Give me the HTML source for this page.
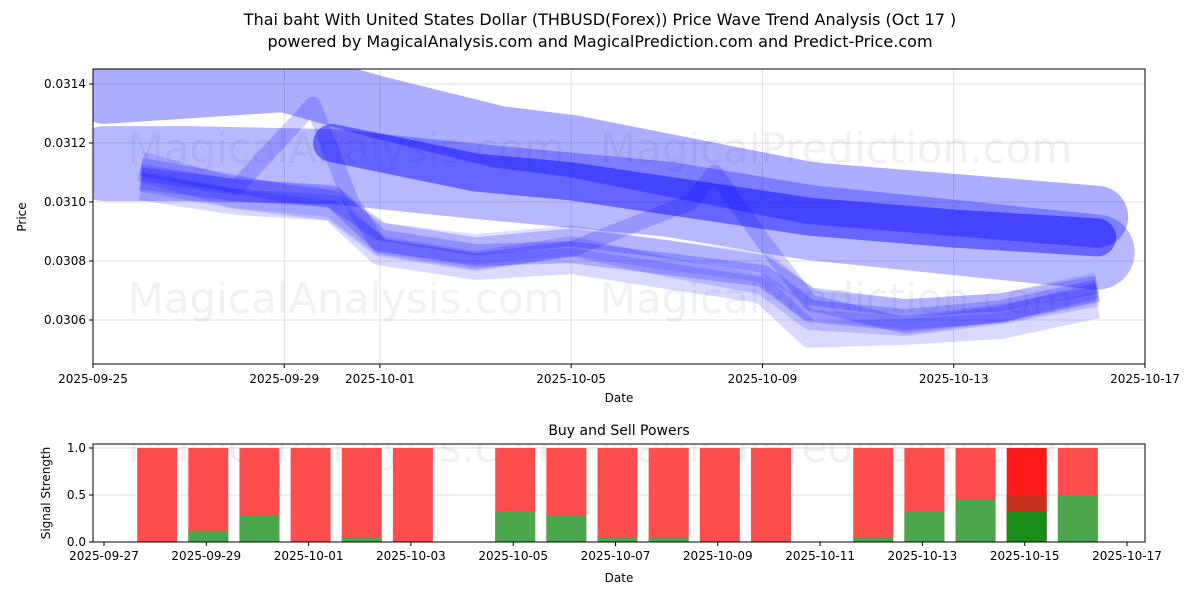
<!DOCTYPE html>
<html><head><meta charset="utf-8"><style>
body{margin:0;background:#fff;font-family:"Liberation Sans","DejaVu Sans",sans-serif;}
svg text{font-family:"DejaVu Sans","Liberation Sans",sans-serif;}
</style></head><body>
<svg id="c" width="1200" height="600" xmlns="http://www.w3.org/2000/svg">
<text x="600" y="25" text-anchor="middle" font-size="16">Thai baht With United States Dollar (THBUSD(Forex)) Price Wave Trend Analysis (Oct 17 )</text>
<text x="600" y="47" text-anchor="middle" font-size="16">powered by MagicalAnalysis.com and MagicalPrediction.com and Predict-Price.com</text>
<defs><clipPath id="cp1"><rect x="93" y="69" width="1052" height="295"/></clipPath><clipPath id="cp2"><rect x="93" y="444" width="1052" height="98"/></clipPath></defs>
<g id="topPanel"></g>
<g id="botPanel"></g>
</svg>
<script>
const NS="http://www.w3.org/2000/svg";
function mk(p,t,a,txt){const e=document.createElementNS(NS,t);for(const k in a)e.setAttribute(k,a[k]);if(txt!==undefined)e.textContent=txt;p.appendChild(e);return e;}
// ---- price panel data (day offset from 2025-09-25) ----
const xTickDays=[0,4,6,10,14,18,22];
const xTickLabels=["2025-09-25","2025-09-29","2025-10-01","2025-10-05","2025-10-09","2025-10-13","2025-10-17"];
const yTicks=[0.0306,0.0308,0.0310,0.0312,0.0314];
const waveDays=[[0.25,4,6,8.5,10,12.5,15,18,21],[0.25,2,5,8,10,12,15,18,21],[5,8,10,12.5,15,18,21],[1,3,5,6,8,10,12,14,15,17,19,21],[1,3,4,5,6,8,10,12,14,15,17,19,21],[1,3,4.6,5.4,6,8,10,12.5,13,14,15,17,19,21],[1,3,5,6,8,10,12,14,15,17,19,21],[1,3,5,6,8,10,12,14,15,17,19,21],[1,3,5,6,8,10,12,14,15,17,19,21]];
const waveVals=[
[0.03137,0.03141,0.03132,0.03122,0.03119,0.03111,0.03103,0.03099,0.03095],
[0.03113,0.03113,0.03112,0.03107,0.03104,0.03101,0.03093,0.03088,0.03083],
[0.03120,0.03110,0.03107,0.03101,0.03095,0.03091,0.03088],
[0.03108,0.03104,0.03102,0.03087,0.03082,0.03083,0.03079,0.03075,0.03063,0.03060,0.03063,0.03070],
[0.03112,0.03106,0.03103,0.03101,0.03090,0.03085,0.03088,0.03084,0.03079,0.03068,0.03064,0.03066,0.03072],
[0.03110,0.03105,0.03133,0.03100,0.03085,0.03080,0.03084,0.03100,0.03110,0.03087,0.03066,0.03058,0.03062,0.03070],
[0.03105,0.03100,0.03098,0.03083,0.03078,0.03080,0.03075,0.03070,0.03055,0.03056,0.03058,0.03065],
[0.03112,0.03103,0.03100,0.03088,0.03084,0.03087,0.03082,0.03078,0.03065,0.03062,0.03064,0.03071],
[0.03107,0.03101,0.03097,0.03085,0.03080,0.03085,0.03078,0.03072,0.03060,0.03058,0.03062,0.03068]];
const waveWidths=[62,75,38,22,18,16,26,30,20];
const waveOps=[0.32,0.28,0.45,0.2,0.2,0.18,0.15,0.12,0.15];

// ---- signal panel data ----
const barDays=[1,2,3,4,5,6,8,9,10,11,12,13,15,16,17,18,19]; // offset from 2025-09-27
const buyVals=[0,0.12,0.28,0,0.05,0,0.33,0.28,0.05,0.05,0,0,0.05,0.33,0.45,0.33,0.5];
const sellVals=[1,1,1,1,1,1,1,1,1,1,1,1,1,1,1,1,1];
const bTickLabels=["2025-09-27","2025-09-29","2025-10-01","2025-10-03","2025-10-05","2025-10-07","2025-10-09","2025-10-11","2025-10-13","2025-10-15","2025-10-17"];
const bYTicks=[0,0.5,1.0];

const topG=document.getElementById('topPanel'),botG=document.getElementById('botPanel');
const X=d=>93+d*1052/22, Y=p=>202-(p-0.0310)*295000;
const BX=d=>104+d*51.15, BY=v=>542-v*94;

xTickDays.forEach(d=>{const l=mk(topG,'line',{x1:X(d),x2:X(d),y1:69,y2:364,stroke:'#e0e0e0','stroke-width':1});

});
yTicks.forEach(v=>{const l=mk(topG,'line',{x1:93,x2:1145,y1:Y(v),y2:Y(v),stroke:'#e0e0e0','stroke-width':1});

});
[["MagicalAnalysis.com",346,163],["MagicalPrediction.com",836,163],["MagicalAnalysis.com",346,313],["MagicalPrediction.com",836,313]].forEach(w=>{const t=mk(topG,'text',{x:w[1],y:w[2],'text-anchor':'middle','font-size':42,fill:'#888','fill-opacity':0.12},w[0]);

});
const wg=mk(topG,'g',{'clip-path':'url(#cp1)'});
waveVals.forEach((vals,i)=>{const pts=vals.map((v,j)=>X(waveDays[i][j])+','+Y(v)).join(' ');
 const pl=mk(wg,'polyline',{points:pts,fill:'none',stroke:'#0000ff','stroke-opacity':waveOps[i],'stroke-width':waveWidths[i],'stroke-linecap':i<3?'round':'butt','stroke-linejoin':'round'});
 
 });
mk(topG,'rect',{x:93,y:69,width:1052,height:295,fill:'none',stroke:'#000','stroke-width':1});
xTickDays.forEach((d,i)=>{mk(topG,'line',{x1:X(d),x2:X(d),y1:364,y2:368,stroke:'#000'});const t=mk(topG,'text',{x:X(d),y:383,'text-anchor':'middle','font-size':12},xTickLabels[i]);

});
yTicks.forEach(v=>{mk(topG,'line',{x1:89,x2:93,y1:Y(v),y2:Y(v),stroke:'#000'});const t=mk(topG,'text',{x:86,y:Y(v)+4,'text-anchor':'end','font-size':12},v.toFixed(4));

});
let t=mk(topG,'text',{x:619,y:402,'text-anchor':'middle','font-size':12},'Date');


t=mk(topG,'text',{x:26,y:217,'text-anchor':'middle','font-size':12,transform:'rotate(-90 26 217)'},'Price');



t=mk(botG,'text',{x:619,y:435,'text-anchor':'middle','font-size':14},'Buy and Sell Powers');


bYTicks.forEach(v=>{const l=mk(botG,'line',{x1:93,x2:1145,y1:BY(v),y2:BY(v),stroke:'#e0e0e0'});

});
[["MagicalAnalysis.com",346,462],["MagicalPrediction.com",836,462]].forEach(w=>{const tt=mk(botG,'text',{x:w[1],y:w[2],'text-anchor':'middle','font-size':42,fill:'#888','fill-opacity':0.12,'clip-path':'url(#cp2)'},w[0]);

});
barDays.forEach((d,i)=>{const cx=BX(d)+2,w=40;const special=(i===15);
 const r=mk(botG,'rect',{x:cx-w/2,y:BY(sellVals[i]),width:w,height:BY(0)-BY(sellVals[i]),fill:special?'#ff1a1a':'#ff4c4c'});
 
 
 if(special){const r2=mk(botG,'rect',{x:cx-w/2,y:BY(0.5),width:w,height:BY(0)-BY(0.5),fill:'#c83020'});
 
 }
 const g=mk(botG,'rect',{x:cx-w/2,y:BY(buyVals[i]),width:w,height:BY(0)-BY(buyVals[i]),fill:special?'#1a8c1a':'#4ca64c'});
 
 });
mk(botG,'rect',{x:93,y:444,width:1052,height:98,fill:'none',stroke:'#000'});
bTickLabels.forEach((s,i)=>{const x=BX(i*2);mk(botG,'line',{x1:x,x2:x,y1:542,y2:546,stroke:'#000'});const tt=mk(botG,'text',{x:x,y:560,'text-anchor':'middle','font-size':12},s);

});
bYTicks.forEach(v=>{mk(botG,'line',{x1:89,x2:93,y1:BY(v),y2:BY(v),stroke:'#000'});const tt=mk(botG,'text',{x:86,y:BY(v)+4,'text-anchor':'end','font-size':12},v.toFixed(1));

});
t=mk(botG,'text',{x:619,y:582,'text-anchor':'middle','font-size':12},'Date');


t=mk(botG,'text',{x:50,y:493,'text-anchor':'middle','font-size':12,transform:'rotate(-90 50 493)'},'Signal Strength');


</script>
</body></html>
